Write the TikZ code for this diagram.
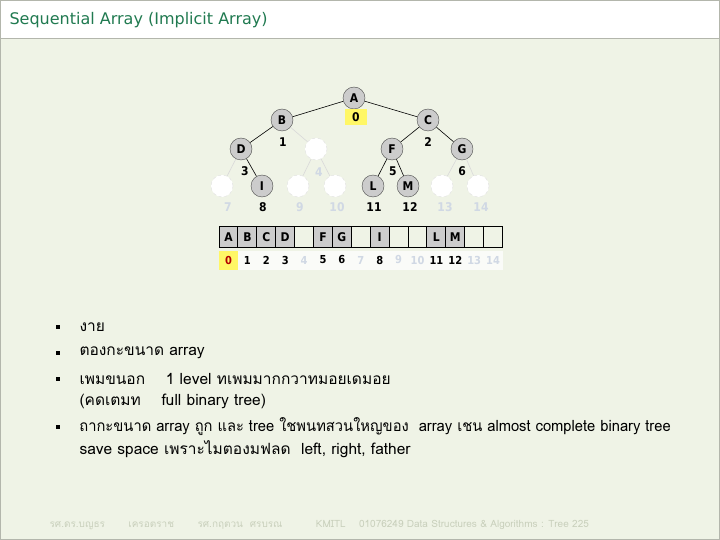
\documentclass[tikz,border=0pt]{standalone}
\usepackage{fontspec}
\setmainfont{DejaVu Sans}
\newfontfamily\thaifont[Script=Thai]{Loma}
\newfontfamily\cf{DejaVu Sans Condensed}
\definecolor{bgc}{HTML}{EFF3E6}
\definecolor{ttl}{HTML}{207A50}
\definecolor{ftc}{HTML}{C9D0BC}
\definecolor{fnt}{HTML}{D0D8E4}
\begin{document}
\begin{tikzpicture}[x=1pt,y=-1pt,
 tn/.style={circle,draw=black!70,fill=black!20,inner sep=0pt,minimum size=22pt,font=\cf\bfseries\fontsize{12}{12}\selectfont},
 en/.style={circle,draw=black!12,dashed,fill=white,inner sep=0pt,minimum size=22pt},
 lb/.style={font=\cf\bfseries\fontsize{12}{12}\selectfont},
 fl/.style={lb,text=fnt},
 e/.style={draw=black,line width=0.6pt},
 fe/.style={draw=black!15,line width=0.6pt},
 cell/.style={draw=black,line width=1pt,minimum width=18.9pt,minimum height=20pt,inner sep=0pt,font=\cf\bfseries\fontsize{12}{12}\selectfont},
 bl/.style={anchor=west,font=\thaifont\fontsize{15.5}{16}\selectfont},
 bu/.style={fill=black,minimum size=4pt,inner sep=0pt}]
\useasboundingbox (0,0) rectangle (720,540);
\fill[bgc] (0,0) rectangle (720,540);
\fill[white] (0,0) rectangle (720,38);
\draw[black!25!bgc] (0.5,0.5) rectangle (719.5,539.5) (0,38) -- (720,38);
\node[anchor=west,text=ttl,font=\fontsize{16}{16}\selectfont] (title) at (6,20) {Sequential Array (Implicit Array)};
% tree
\node[tn] (A) at (354,98) {A};
\node[tn] (B) at (282,120) {B};
\node[tn] (C) at (428,120) {C};
\node[tn] (D) at (241,149) {D};
\node[en] (n4) at (316,149) {};
\node[tn] (F) at (392,149) {F};
\node[tn] (G) at (462,149) {G};
\node[en] (n7) at (222,186) {};
\node[tn] (I) at (262,186) {I};
\node[en] (n9) at (298,186) {};
\node[en] (n10) at (335,186) {};
\node[tn] (L) at (373,186) {L};
\node[tn] (M) at (408,186) {M};
\node[en] (n13) at (442,186) {};
\node[en] (n14) at (478,186) {};
\draw[e] (A)--(B) (A)--(C) (B)--(D) (C)--(F) (C)--(G) (D)--(I) (F)--(L) (F)--(M);
\draw[fe] (B)--(n4) (D)--(n7) (n4)--(n9) (n4)--(n10) (G)--(n13) (G)--(n14);
\node[lb,fill=yellow!60,minimum width=22pt] (l0) at (356,117) {0};
\node[lb] (l1) at (283,142) {1};
\node[lb] (l2) at (428,142) {2};
\node[lb] (l3) at (245,171) {3};
\node[fl] (l4) at (319,172) {4};
\node[lb] (l5) at (393,171) {5};
\node[lb] (l6) at (462,171) {6};
\node[fl] (l7) at (228,207) {7};
\node[lb] (l8) at (263,207) {8};
\node[fl] (l9) at (300,207) {9};
\node[fl] (l10) at (337,207) {10};
\node[lb] (l11) at (374,207) {11};
\node[lb] (l12) at (410,207) {12};
\node[fl] (l13) at (445,207) {13};
\node[fl] (l14) at (481,207) {14};
% array
\foreach \t [count=\i from 0] in {A,B,C,D,,F,G,,I,,,L,M,,}{
  \pgfmathsetmacro\xx{228.5+18.9*\i}
  \ifx\t\empty
    \node[cell] (c\i) at (\xx,237) {};
  \else
    \node[cell,fill=black!20] (c\i) at (\xx,237) {\t};
  \fi
}
\fill[yellow!60] (219,251) rectangle (238,270);
\fill[white!70!bgc] (238,251) rectangle (503,270);
\foreach \i/\c in {0/red!70!black,1/black,2/black,3/black,4/fnt,5/black,6/black,7/fnt,8/black,9/fnt,10/fnt,11/black,12/black,13/fnt,14/fnt}{
  \pgfmathsetmacro\xx{228.5+18.9*\i}
  \node[font=\cf\bfseries\fontsize{11}{11}\selectfont,text=\c] (ix\i) at (\xx,260) {\i};
}
% bullets
\foreach \y/\n in {327/1,353/2,379/3,427/4}{\node[bu] (b\n) at (58,\y) {};}
\node[bl] (t1) at (76,327) {งาย};
\node[bl] (t2) at (76,353) {ตองกะขนาด array};
\node[bl] (t3) at (76,379) {เพมขนอก \quad 1 level ทเพมมากกวาทมอยเดมอย};
\node[bl] (t3b) at (76,401) {(คดเตมท \quad full binary tree)};
\node[bl,xscale=0.95,transform shape] (t4) at (76,427) {ถากะขนาด array ถูก และ tree ใชพนทสวนใหญของ \ array เชน almost complete binary tree};
\node[bl] (t4b) at (76,449) {save space เพราะไมตองมฟลด \ left, right, father};
% footer
\node[anchor=west,text=ftc,font=\thaifont\fontsize{10}{10}\selectfont] (foot) at (46,525) {รศ.ดร.บญธร \qquad เครอตราช \qquad รศ.กฤตวน \ ศรบรณ \qquad\quad KMITL \quad 01076249 Data Structures \& Algorithms : Tree 225};
\end{tikzpicture}
\end{document}
